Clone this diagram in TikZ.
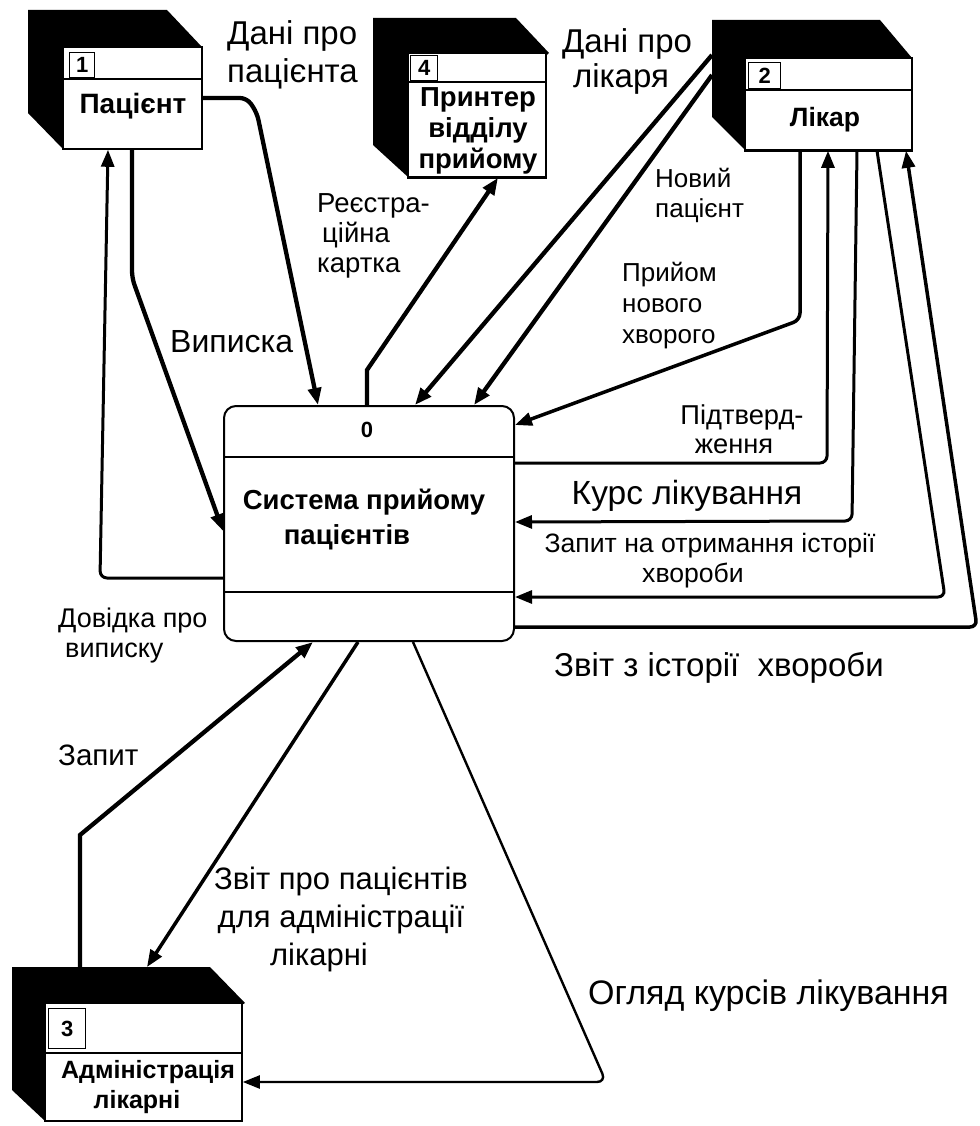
\documentclass[tikz,border=0pt]{standalone}
\usepackage{fontspec}
\setmainfont{Liberation Sans}
\usetikzlibrary{arrows.meta,calc,fit}
\newcommand\lfs[2]{\fontsize{#1}{#2}\selectfont}

\begin{document}
\begin{tikzpicture}[x=1pt,y=-1pt,
  ebox/.style={draw, line width=1.6pt, fill=white, inner sep=0pt},
  numbox/.style={draw, line width=1.3pt, fill=white, inner sep=0pt,
    font=\bfseries\lfs{22}{22}},
  etext/.style={font=\bfseries\lfs{27.5}{31}, align=center, inner sep=0pt},
  lab/.style={inner sep=0pt},
  tip/.style={-{Triangle[length=17pt,width=13pt]}},
  flowA/.style={tip, line width=4.3pt, rounded corners=7pt},
  flowB/.style={tip, line width=3pt, rounded corners=7pt},
  flowC/.style={tip, line width=2.4pt, rounded corners=9pt},
]
\useasboundingbox (0,0) rectangle (979,1126);

% ---------- external entity 1: patient ----------
\fill (28,10) -- (167,10) -- (202,47) -- (63,149) -- (28,113) -- cycle;
\path (63,47) coordinate (pat-a) (202,149) coordinate (pat-b);
\node[ebox, fit=(pat-a)(pat-b)] (pat) {};
\draw[line width=1.6pt] (pat.west |- 0,79) -- (pat.east |- 0,79);
\node[numbox, minimum width=25pt, minimum height=25pt, anchor=north west] (pat-n) at (69,52) {1};
\node[etext, font=\bfseries\lfs{28}{31}] (pat-t) at (133,106) {Пацієнт};

% ---------- external entity 4: reception printer ----------
\fill (373,18) -- (516,18) -- (549,53) -- (408,177) -- (373,145) -- cycle;
\path (408,53) coordinate (prn-a) (546,177) coordinate (prn-b);
\node[ebox, fit=(prn-a)(prn-b)] (prn) {};
\draw[line width=2.6pt] (prn.south west) -- (prn.south east);
\draw[line width=1.6pt] (prn.west |- 0,82) -- (prn.east |- 0,82);
\node[numbox, minimum width=27pt, minimum height=25pt, anchor=north west] (prn-n) at (410,55) {4};
\node[etext] (prn-t) at (478,131) {Принтер\\відділу\\прийому};

% ---------- external entity 2: doctor ----------
\fill (712,20) -- (880,20) -- (912,58) -- (745,150) -- (712,117) -- cycle;
\coordinate (doc-back) at (712,20);
\path (745,58) coordinate (doc-a) (912,150) coordinate (doc-b);
\node[ebox, fit=(doc-a)(doc-b)] (doc) {};
\draw[line width=2.6pt] (doc.south west) -- (doc.south east);
\draw[line width=2.8pt] (doc.west |- 0,90) -- (doc.east |- 0,90);
\node[numbox, minimum width=32pt, minimum height=26pt, anchor=north west] (doc-n) at (748,62) {2};
\node[etext, font=\bfseries\lfs{26.5}{31}] (doc-t) at (825,120) {Лікар};

% ---------- external entity 3: hospital administration ----------
\fill (12,967) -- (210,967) -- (245,1003) -- (45,1121) -- (12,1090) -- cycle;
\coordinate (adm-back) at (12,967);
\path (45,1003) coordinate (adm-a) (242,1121) coordinate (adm-b);
\node[ebox, fit=(adm-a)(adm-b)] (adm) {};
\draw[line width=1.6pt] (adm.west |- 0,1053) -- (adm.east |- 0,1053);
\node[numbox, minimum width=37pt, minimum height=40pt, anchor=north west] (adm-n) at (48,1008) {3};
\node[etext, font=\bfseries\lfs{25}{30}] (adm-t) at (148,1087) {Адміністрація\\лікарні\hspace*{22pt}\mbox{}};

% ---------- process 0 ----------
\node[draw, fill=white, line width=2pt, rounded corners=12pt, inner sep=0pt,
      minimum width=290pt, minimum height=235pt, anchor=north west] (sys) at (223,405) {};
\draw[line width=1.8pt] (sys.west |- 0,457) -- (sys.east |- 0,457);
\draw[line width=1.8pt] (sys.west |- 0,592) -- (sys.east |- 0,592);
\node[font=\bfseries\lfs{22}{22}, inner sep=0pt] (sys-n) at (367,430) {0};
\node[etext, font=\bfseries\lfs{27.5}{35}] (sys-t) at (364,520) {Система прийому\\пацієнтів\hspace*{34pt}\mbox{}};

% ---------- data flows ----------
% patient data
\draw[flowA] (pat.east |- 0,98) -- (247,98) -- (257,113) -- (318,0 |- sys.north);
% discharge note back to patient
\draw[flowB] (sys.west |- 0,578) -- (100,578) -- (108,0 |- pat.south);
% discharge
\draw[flowA] (132,0 |- pat.south) -- (132,278) -- (sys.west |- 0,531);
% registration card to printer
\draw[flowA, rounded corners=0pt] (367,0 |- sys.north) -- (367,370) -- (498,0 |- prn.south);
% doctor data and new patient
\draw[flowA] (doc-back |- 0,55) -- (415,0 |- sys.north);
\draw[flowA] (doc-back |- 0,75) -- (474,0 |- sys.north);
% admission of a new patient
\draw[flowB, line width=3.5pt] (800,0 |- doc.south) -- (800,320) -- (sys.east |- 0,425);
% confirmation
\draw[flowB] (sys.east |- 0,463) -- (827,463) -- (828,0 |- doc.south);
% course of treatment
\draw[flowB] (857,0 |- doc.south) -- (852,521) -- (sys.east |- 0,522);
% case history request
\draw[flowB] (877,0 |- doc.south) -- (945,597) -- (sys.east |- 0,597);
% case history report
\draw[flowB, line width=3.5pt] (sys.east |- 0,627) -- (977,627) -- (906,0 |- doc.south);
% request from administration
\draw[flowA, rounded corners=0pt] (80,0 |- adm-back) -- (80,835) -- (313,0 |- sys.south);
% patient report for administration
\draw[flowB, line width=3.5pt] (358,0 |- sys.south) -- (147,0 |- adm-back);
% treatment review
\draw[flowC] (413,0 |- sys.south) -- (606,1082) -- (adm.east |- 0,1082);

% ---------- flow labels ----------
\node[lab, anchor=north west, align=left, font=\lfs{33}{38}] (l1) at (227,20) {Дані про\\пацієнта};
\node[lab, anchor=north, align=center, font=\lfs{33}{35}] (l2) at (627,28) {Дані про\\лікаря\hspace*{12pt}\mbox{}};
\node[lab, anchor=north west, align=left, font=\lfs{27.5}{30}] (l3) at (317,193) {Реєстра-\\\hspace*{5pt}ційна\\картка};
\node[lab, anchor=north west, align=left, font=\lfs{26}{30}] (l4) at (655,168) {Новий\\пацієнт};
\node[lab, anchor=north west, align=left, font=\lfs{26}{31}] (l5) at (622,262) {Прийом\\нового\\хворого};
\node[lab, anchor=north, align=center, font=\lfs{27.3}{29}] (l6) at (742,405) {Підтверд-\\ження\hspace*{16pt}\mbox{}};
\node[lab, anchor=north, font=\lfs{33.5}{33}] (l7) at (687,480) {Курс лікування};
\node[lab, anchor=north, align=center, font=\lfs{26.6}{30}] (l8) at (710,533) {Запит на отримання історії\\хвороби\hspace*{34pt}\mbox{}};
\node[lab, anchor=north, font=\lfs{33}{33}] (l9) at (719,652) {Звіт з історії\ \ хвороби};
\node[lab, anchor=north west, align=left, font=\lfs{27}{30}] (l10) at (58,608) {Довідка про\\\hspace*{7pt}виписку};
\node[lab, anchor=north west, font=\lfs{32}{32}] (l11) at (170,330) {Виписка};
\node[lab, anchor=north west, font=\lfs{29.5}{29}] (l12) at (58,745) {Запит};
\node[lab, anchor=north, align=center, font=\lfs{31}{38}] (l13) at (341,867) {Звіт про пацієнтів\\для адміністрації\\лікарні\hspace*{44pt}\mbox{}};
\node[lab, anchor=north west, font=\lfs{34}{34}] (l14) at (588,980) {Огляд курсів лікування};
\end{tikzpicture}
\end{document}
